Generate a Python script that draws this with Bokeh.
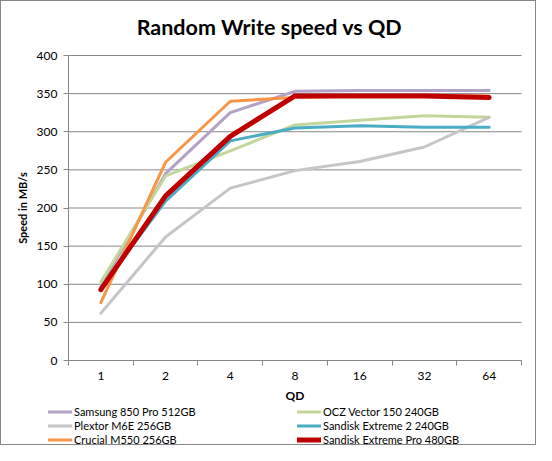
from bokeh.plotting import figure
from bokeh.models import Range1d, FixedTicker, Legend, LegendItem, Label
from bokeh.embed import file_html
from bokeh.resources import INLINE

qd = ["1", "2", "4", "8", "16", "32", "64"]
samsung = [97, 245, 325, 353, 354, 354, 354]
ocz = [103, 242, 275, 309, 315, 321, 319]
plextor = [62, 162, 226, 249, 261, 280, 319]
sandisk_e2 = [95, 209, 288, 305, 308, 306, 306]
crucial = [76, 260, 340, 345, 347, 348, 347]
sandisk_pro = [93, 216, 294, 347, 347, 347, 345]
y_ticks = [0, 50, 100, 150, 200, 250, 300, 350, 400]
title_text = "Random Write speed vs QD"

series = [
    ("Samsung 850 Pro 512GB", samsung, "#B3A2C7", 3),
    ("OCZ Vector 150 240GB", ocz, "#C3D69B", 3),
    ("Plextor M6E 256GB", plextor, "#C6C6C6", 3),
    ("Sandisk Extreme 2 240GB", sandisk_e2, "#4BACC6", 3),
    ("Crucial M550 256GB", crucial, "#F79646", 3),
    ("Sandisk Extreme Pro 480GB", sandisk_pro, "#C00000", 5),
]
legend_order = [0, 2, 4, 1, 3, 5]  # column-major fill -> rows read pairwise

FONT = "Lato"
GRID = "#878787"

# layout (pixels)
W, H = 536, 445
PT, PL, PR, PB = 54, 67, 520, 359   # plot area top/left/right/bottom in canvas pixels
n = len(qd)
ymax = y_ticks[-1]
ux = (PR - PL) / n
uy = (PB - PT) / ymax
x_lo = -PL / ux
x_hi = n + (W - PR) / ux
y_lo = -(H - PB) / uy
y_hi = ymax + PT / uy

p = figure(width=W, height=H, output_backend="svg", toolbar_location=None,
           x_range=Range1d(x_lo, x_hi), y_range=Range1d(y_lo, y_hi),
           min_border=0)
p.styles = {"border": "1px solid #878787"}
p.outline_line_color = None
p.background_fill_color = "white"

p.add_layout(Label(x=268, y=H - 25, x_units="screen", y_units="screen",
                   text=title_text, text_align="center", text_baseline="middle",
                   text_font=FONT, text_font_style="bold", text_font_size="21.5px",
                   text_color="black"))

# gridlines
p.multi_line(xs=[[0, n] for _ in y_ticks], ys=[[t, t] for t in y_ticks],
             line_color=GRID, line_width=1)

xs = [i + 0.5 for i in range(n)]
renderers = []
for name, vals, color, w in series:
    r = p.line(xs, vals, line_color=color, line_width=w, line_join="round", line_cap="round")
    renderers.append(r)

# axes
p.xgrid.visible = False
p.ygrid.visible = False
xa = p.xaxis[0]
ya = p.yaxis[0]
xa.fixed_location = 0
ya.fixed_location = 0
xa.bounds = (0, n)
ya.bounds = (0, ymax)
xa.ticker = FixedTicker(ticks=xs, minor_ticks=list(range(n + 1)))
xa.major_label_overrides = {x: l for x, l in zip(xs, qd)}
xa.major_tick_line_color = None
xa.major_tick_out = 0
xa.major_tick_in = 0
xa.minor_tick_out = 5
xa.minor_tick_in = 0
xa.minor_tick_line_color = GRID
xa.axis_label = "QD"
ya.ticker = FixedTicker(ticks=y_ticks)
ya.axis_label = "Speed in MB/s"
ya.major_tick_out = 5
ya.major_tick_in = 0
ya.minor_tick_line_color = None
ya.major_tick_line_color = GRID
for ax in (xa, ya):
    ax.axis_line_color = GRID
    ax.major_label_text_font = FONT
    ax.major_label_text_font_size = "12px"
    ax.major_label_text_color = "black"
    ax.axis_label_text_font = FONT
    ax.axis_label_text_font_style = "bold"
    ax.axis_label_text_color = "black"
xa.axis_label_text_font_size = "12px"
ya.axis_label_text_font_size = "11px"
xa.major_label_standoff = 6
xa.axis_label_standoff = 5
ya.major_label_standoff = 6
ya.axis_label_standoff = 5

items = [LegendItem(label=series[i][0], renderers=[renderers[i]]) for i in legend_order]
legend = Legend(items=items, ncols=2, location=(47, 0),
                border_line_color=None, background_fill_alpha=0,
                padding=0, margin=0, spacing=1,
                glyph_height=13, glyph_width=24, label_height=13,
                label_standoff=2, label_width=222,
                label_text_font=FONT, label_text_font_size="11px", label_text_color="black")
p.add_layout(legend, "center")

open("out.html", "w").write(file_html(p, INLINE))
